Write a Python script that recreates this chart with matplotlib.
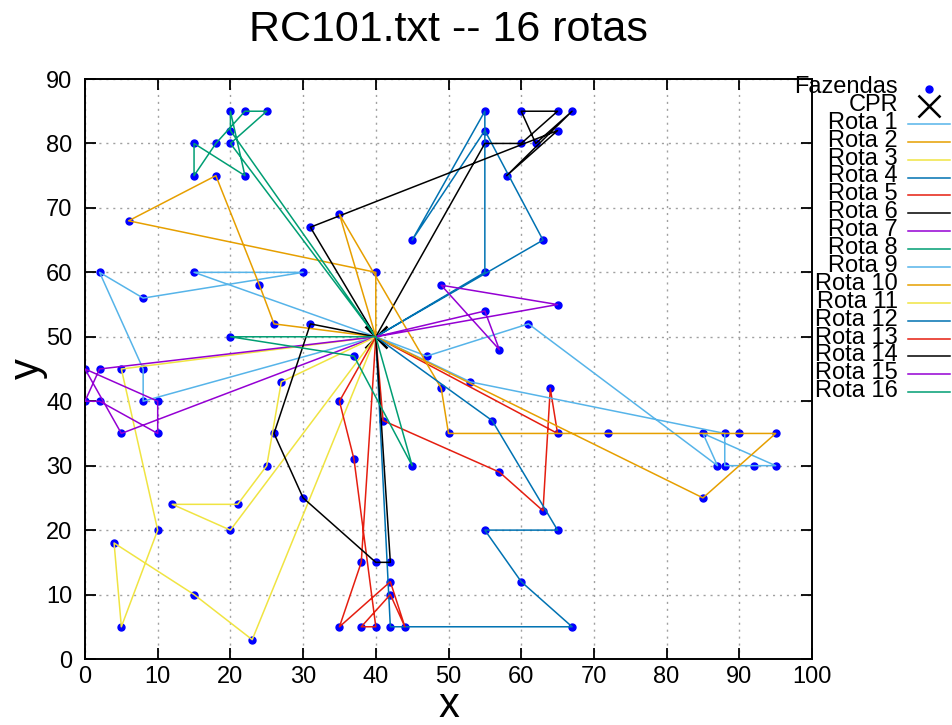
import matplotlib
matplotlib.use("Agg")
import matplotlib.pyplot as plt
from matplotlib.lines import Line2D

plt.rcParams['font.family'] = ['Liberation Sans', 'DejaVu Sans']

# depot (CPR)
depot = (40, 50)

# routes: customers visited in order (depot at both ends is added later)
rota_1 = [(15, 60), (30, 60), (8, 56), (2, 60), (8, 45), (8, 40)]
rota_2 = [(26, 52), (24, 58), (18, 75), (6, 68), (40, 60)]
rota_3 = [(5, 45), (10, 20), (5, 5), (4, 18), (15, 10), (23, 3)]
rota_4 = [(55, 60), (55, 85), (45, 65), (55, 82), (63, 65)]
rota_5 = [(41, 37), (57, 29), (63, 23), (64, 42), (65, 35)]
rota_6 = [(31, 67), (65, 82), (58, 75), (67, 85), (62, 80), (60, 85), (65, 85), (60, 80), (55, 80)]
rota_7 = [(2, 45), (0, 40), (2, 40), (10, 35), (10, 40), (0, 45), (5, 35)]
rota_8 = [(20, 82), (20, 85), (22, 75), (15, 80), (15, 75), (18, 80), (22, 85), (25, 85), (20, 80)]
rota_9 = [(47, 47), (61, 52), (87, 30), (85, 35), (95, 30), (92, 30), (88, 30), (88, 35), (53, 43)]
rota_10 = [(35, 69), (49, 42), (50, 35), (72, 35), (90, 35), (95, 35), (85, 25)]
rota_11 = [(27, 43), (25, 30), (21, 24), (12, 24), (20, 20)]
rota_12 = [(56, 37), (65, 20), (55, 20), (60, 12), (67, 5), (42, 5)]
rota_13 = [(35, 40), (37, 31), (40, 5), (38, 5), (42, 10), (44, 5), (42, 12), (35, 5), (38, 15)]
rota_14 = [(31, 52), (26, 35), (30, 25), (40, 15), (42, 15)]
rota_15 = [(65, 55), (49, 58), (57, 48), (55, 54)]
rota_16 = [(20, 50), (37, 47), (45, 30)]

rotas = [rota_1, rota_2, rota_3, rota_4, rota_5, rota_6, rota_7, rota_8,
         rota_9, rota_10, rota_11, rota_12, rota_13, rota_14, rota_15, rota_16]
cores = ['#56B4E9', '#E69F00', '#F0E442', '#0072B2',
         '#E51E10', '#000000', '#9400D3', '#009E73']

W, H = 953, 725
fig = plt.figure(figsize=(W / 100, H / 100), dpi=100)
ax = fig.add_axes([85 / W, 66 / H, 727 / W, 580 / H])

# farms
fx = [p[0] for r in rotas for p in r]
fy = [p[1] for r in rotas for p in r]
ax.plot(fx, fy, 'o', color='#0000FF', ms=5, zorder=2)
ax.plot(depot[0], depot[1], 'x', color='black', ms=16, mew=1.8, zorder=2)

for i, r in enumerate(rotas):
    xs = [depot[0]] + [p[0] for p in r] + [depot[0]]
    ys = [depot[1]] + [p[1] for p in r] + [depot[1]]
    ax.plot(xs, ys, '-', color=cores[i % 8], lw=1.1, zorder=3)

ax.set_xlim(0, 100)
ax.set_ylim(0, 90)
ax.set_xticks(range(0, 101, 10))
ax.set_yticks(range(0, 91, 10))
ax.grid(True, color='#a0a0a0', linestyle=(0, (1.5, 3.5)), lw=1.0)
ax.tick_params(direction='in', length=8, width=1.3, top=True, right=True,
               labelsize=17)
ax.tick_params(axis='y', pad=9)
ax.tick_params(axis='x', pad=5)
for s in ax.spines.values():
    s.set_linewidth(1.4)

ax.text(0.5, 1.085, 'RC101.txt -- 16 rotas', transform=ax.transAxes,
        ha='center', va='center', fontsize=31)
ax.set_xlabel('x', fontsize=30)
ax.xaxis.label.set_va('center')
ax.xaxis.set_label_coords(0.5, -0.081)
ax.set_ylabel('y', fontsize=30)
ax.yaxis.label.set_va('center')
ax.yaxis.set_label_coords(-0.078, 0.5)

# legend, gnuplot style: right-aligned labels, tightly stacked
entradas = ['Fazendas', 'CPR'] + ['Rota %d' % (i + 1) for i in range(len(rotas))]
for k, nome in enumerate(entradas):
    yb = 93 + k * 17.9
    fig.text(898 / W, 1 - yb / H, nome, ha='right', va='baseline', fontsize=17)
    yl = 1 - (yb - 5) / H
    if k == 0:
        fig.add_artist(Line2D([929 / W], [1 - 89 / H], marker='o', color='#0000FF',
                              ms=5, transform=fig.transFigure))
    elif k == 1:
        fig.add_artist(Line2D([929 / W], [1 - 106 / H], marker='x', color='black',
                              ms=16, mew=1.8, transform=fig.transFigure))
    else:
        fig.add_artist(Line2D([908 / W, 950 / W], [yl, yl], color=cores[(k - 2) % 8],
                              lw=1.1, transform=fig.transFigure))

fig.savefig('out.png', dpi=100)
